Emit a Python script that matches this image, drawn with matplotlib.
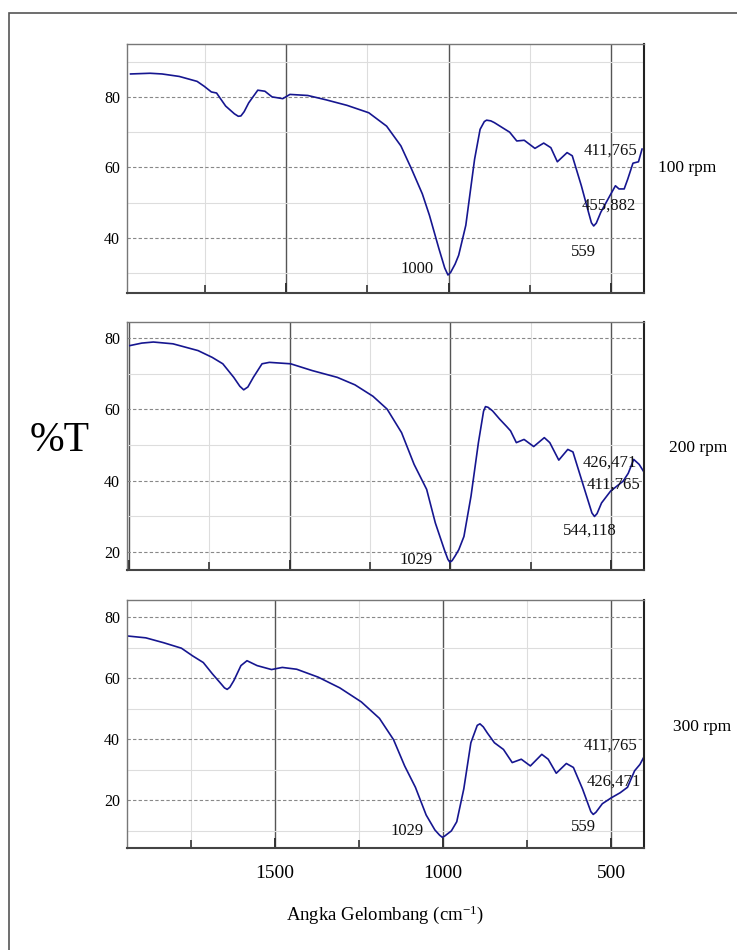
import numpy as np
import matplotlib.pyplot as plt
from matplotlib.patches import Rectangle
from matplotlib.ticker import MultipleLocator

plt.rcParams['font.family'] = ['Liberation Serif', 'DejaVu Serif']
plt.rcParams['mathtext.fontset'] = 'custom'
plt.rcParams['mathtext.rm'] = 'Liberation Serif'
plt.rcParams['mathtext.it'] = 'Liberation Serif:italic'

# FTIR spectra (wavenumber in cm-1, %T)
wn_100 = [1980, 1920, 1883, 1830, 1775, 1753, 1731, 1715, 1687, 1660, 1648, 1640, 1630,
          1616, 1588, 1566, 1544, 1511, 1489, 1434, 1379, 1313, 1246, 1191, 1147, 1114,
          1081, 1059, 1030, 1012, 1002, 994, 980, 969, 947, 920, 903, 890, 883, 870, 859,
          826, 812, 790, 767, 734, 707, 685, 665, 635, 619, 591, 569, 560, 553, 545, 531,
          503, 486, 475, 459, 448, 432, 415, 404]
t_100 = [86.5, 86.7, 86.5, 85.8, 84.4, 83.0, 81.4, 81.1, 77.4, 75.2, 74.5, 74.6, 75.8,
         78.3, 81.9, 81.6, 80.0, 79.5, 80.7, 80.4, 79.2, 77.6, 75.5, 71.7, 66.1, 59.5,
         52.5, 46.4, 37.0, 31.5, 29.5, 30.2, 32.6, 35.1, 43.6, 62.3, 70.8, 73.0, 73.4,
         73.2, 72.7, 70.8, 70.0, 67.5, 67.7, 65.4, 66.9, 65.6, 61.6, 64.2, 63.3, 54.8,
         47.3, 44.3, 43.4, 44.2, 47.3, 52.0, 54.8, 53.9, 53.9, 56.7, 61.2, 61.6, 65.2]

wn_200 = [1997, 1960, 1924, 1863, 1785, 1741, 1708, 1674, 1655, 1643, 1630, 1613, 1586,
          1563, 1497, 1430, 1352, 1297, 1241, 1197, 1152, 1113, 1074, 1047, 1019, 1008,
          1002, 995, 985, 974, 958, 936, 913, 897, 891, 883, 869, 847, 825, 813, 795, 771,
          741, 708, 691, 663, 635, 619, 586, 560, 552, 544, 530, 502, 463, 447, 430, 413,
          397]
t_200 = [77.9, 78.6, 78.9, 78.4, 76.5, 74.6, 72.8, 69.0, 66.5, 65.5, 66.3, 69.0, 72.8,
         73.2, 72.8, 70.9, 69.0, 66.9, 63.7, 60.1, 53.5, 44.6, 37.6, 28.2, 20.7, 18.0,
         17.2, 17.6, 19.0, 20.7, 24.4, 35.7, 50.7, 59.5, 60.8, 60.6, 59.6, 57.3, 55.2,
         54.0, 50.7, 51.6, 49.6, 52.1, 50.7, 45.8, 48.8, 48.1, 38.5, 31.0, 30.0, 30.8,
         33.8, 37.1, 39.9, 42.1, 46.0, 44.6, 42.3]

wn_300 = [1938, 1884, 1831, 1778, 1745, 1713, 1686, 1660, 1650, 1642, 1634, 1622, 1601,
          1583, 1553, 1510, 1478, 1435, 1371, 1307, 1243, 1189, 1147, 1114, 1082, 1050,
          1024, 1010, 1002, 995, 975, 959, 938, 917, 898, 890, 880, 868, 847, 820, 794,
          767, 740, 706, 687, 663, 633, 612, 585, 560, 553, 545, 526, 500, 473, 451, 430,
          414, 398]
t_300 = [73.8, 73.2, 71.6, 69.8, 67.3, 65.1, 61.4, 58.1, 56.8, 56.3, 57.0, 59.2, 64.1,
         65.7, 64.1, 62.8, 63.5, 62.9, 60.3, 56.8, 52.2, 46.8, 39.8, 31.2, 24.2, 15.1,
         10.2, 8.5, 7.8, 8.2, 9.9, 12.9, 23.7, 38.8, 44.5, 45.0, 44.0, 42.0, 38.8, 36.6,
         32.3, 33.4, 31.2, 35.0, 33.4, 28.8, 32.0, 30.7, 23.7, 16.2, 15.3, 16.0, 18.8,
         20.7, 22.4, 24.2, 29.6, 31.7, 35.0]

speeds = ['100 rpm', '200 rpm', '300 rpm']
yticks = [[40, 60, 80], [20, 40, 60, 80], [20, 40, 60, 80]]
xtick_labels = ['1500', '1000', '500']

# peak labels: text, wavenumber, %T
labels_100 = [('1000', 1096, 31.2), ('411,765', 500, 64.7),
              ('455,882', 506, 49.1), ('559', 586, 36.0)]
labels_200 = [('1029', 1106, 17.7), ('426,471', 503, 45.2),
              ('411,765', 494, 39.0), ('544,118', 568, 26.1)]
labels_300 = [('1029', 1107, 9.8), ('411,765', 503, 37.7),
              ('426,471', 491, 26.2), ('559', 583, 11.1)]

spectra = [(wn_100, t_100, labels_100), (wn_200, t_200, labels_200), (wn_300, t_300, labels_300)]
xlims = [(1991, 398), (2006, 398), (1940, 402)]
ylims = [(24.4, 95), (15, 84.5), (4.3, 85.6)]
boxes = [[0.1723, 0.6916, 0.7015, 0.2621],
         [0.1723, 0.4000, 0.7015, 0.2610],
         [0.1723, 0.1074, 0.7015, 0.2610]]
name_pos = [(0.933, 0.823), (0.947, 0.528), (0.952, 0.235)]

fig = plt.figure(figsize=(7.37, 9.5), dpi=100)

# page frame (only left and top edges fall inside the image)
fig.patches.append(Rectangle((9 / 737, -0.05), 1.1, 1.05 - 13 / 950, transform=fig.transFigure,
                             fill=False, edgecolor='#555555', linewidth=1.2))

for i, (wn, t, labs) in enumerate(spectra):
    ax = fig.add_axes(boxes[i])
    ax.set_xlim(*xlims[i])
    ax.set_ylim(*ylims[i])

    ax.xaxis.set_major_locator(MultipleLocator(500))
    ax.xaxis.set_minor_locator(MultipleLocator(250))
    ax.yaxis.set_major_locator(MultipleLocator(20))
    ax.yaxis.set_minor_locator(MultipleLocator(10))

    ax.grid(which='minor', axis='both', color='#dddddd', linewidth=0.8)
    ax.grid(which='major', axis='x', color='#555555', linewidth=1.0)
    ax.grid(which='major', axis='y', color='#888888', linewidth=0.8, linestyle=(0, (3, 2)))
    ax.set_axisbelow(True)

    ax.plot(wn, t, color='#161690', linewidth=1.2)

    for txt, x, y in labs:
        ax.text(x, y, txt, ha='center', va='center', fontsize=12, color='#111111')

    ax.set_yticks(yticks[i])
    ax.tick_params(axis='y', which='both', length=0, labelsize=11.5, pad=5)
    ax.tick_params(axis='x', which='major', direction='in', length=7, width=1.4,
                   color='#333333', top=False, pad=12, labelsize=14)
    ax.tick_params(axis='x', which='minor', direction='in', length=6, width=1.2,
                   color='#333333', top=False)
    if i == 2:
        ax.set_xticks([1500, 1000, 500])
        ax.set_xticklabels(xtick_labels)
    else:
        ax.tick_params(axis='x', labelbottom=False)

    for s in ['left', 'top']:
        ax.spines[s].set_color('#777777')
        ax.spines[s].set_linewidth(1.0)
    ax.spines['bottom'].set_color('#444444')
    ax.spines['bottom'].set_linewidth(1.5)
    ax.spines['right'].set_color('#222222')
    ax.spines['right'].set_linewidth(1.5)

    fig.text(name_pos[i][0], name_pos[i][1], speeds[i], ha='center', va='center', fontsize=12.5)

fig.text(0.0814, 0.536, '%T', ha='center', va='center', fontsize=30)
fig.text(0.522, 0.037, 'Angka Gelombang (cm$^{-1}$)', ha='center', va='center', fontsize=13.5)

fig.savefig('out.png', dpi=100)
